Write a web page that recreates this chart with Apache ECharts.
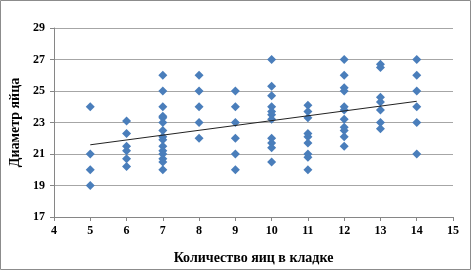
<!DOCTYPE html>
<html><head><meta charset="utf-8">
<script src="https://cdn.jsdelivr.net/npm/echarts@6/dist/echarts.min.js"></script>
<style>html,body{margin:0;padding:0;background:#fff}#c{width:471px;height:270px}</style>
</head><body><div id="c"></div>
<script>
// Clutch size (x) and egg diameter values (y) per column
const clutch5 = [24, 21, 20, 19];
const clutch6 = [23.1, 22.3, 21.5, 21.2, 20.7, 20.2];
const clutch7 = [26, 25, 24, 23.4, 23.3, 23.0, 22.5, 22.1, 21.9, 21.5, 21.2, 21.0, 20.7, 20.5, 20.0];
const clutch8 = [26, 25, 24, 23, 22];
const clutch9 = [25, 24, 23, 22, 21, 20];
const clutch10 = [27, 25.3, 24.7, 24, 23.7, 23.5, 23.2, 22.0, 21.7, 21.4, 20.5];
const clutch11 = [24.1, 23.7, 23.3, 22.3, 22.1, 21.7, 21.0, 20.8, 20.0];
const clutch12 = [27, 26, 25.2, 25.0, 24, 23.8, 23.2, 22.7, 22.5, 22.1, 21.5];
const clutch13 = [26.7, 26.5, 24.6, 24.3, 23.8, 23.0, 22.6];
const clutch14 = [27, 26, 25, 24, 23, 21];
const clutchSizes = [5, 6, 7, 8, 9, 10, 11, 12, 13, 14];
const diameters = [clutch5, clutch6, clutch7, clutch8, clutch9, clutch10, clutch11, clutch12, clutch13, clutch14];
const xTicks = [4, 15, 1];
const yTicks = [17, 29, 2];

const points = [];
clutchSizes.forEach((cs, i) => diameters[i].forEach(d => points.push([cs, d])));

// linear trend line (least squares)
let n = points.length, sx = 0, sy = 0, sxy = 0, sxx = 0;
points.forEach(([x, y]) => { sx += x; sy += y; sxy += x * y; sxx += x * x; });
const b = (n * sxy - sx * sy) / (n * sxx - sx * sx);
const a = (sy - b * sx) / n;
const xMinD = Math.min(...clutchSizes), xMaxD = Math.max(...clutchSizes);
const trend = [[xMinD, a + b * xMinD], [xMaxD, a + b * xMaxD]];

const chart = echarts.init(document.getElementById('c'), null, {renderer: 'canvas'});
const font = '"Liberation Serif", "Times New Roman", serif';
chart.setOption({
  animation: false,
  backgroundColor: '#fff',
  graphic: [{type: 'rect', shape: {x: 0.5, y: 0.5, width: 470, height: 269},
    style: {fill: 'none', stroke: '#8c8c8c', lineWidth: 1}, silent: true}],
  grid: {left: 54, right: 18, top: 28, bottom: 52, containLabel: false},
  xAxis: {
    type: 'value', min: xTicks[0], max: xTicks[1], interval: xTicks[2],
    name: 'Количество яиц в кладке', nameLocation: 'middle', nameGap: 34,
    nameTextStyle: {fontFamily: font, fontWeight: 'bold', fontSize: 14, color: '#000'},
    axisLine: {show: true, lineStyle: {color: '#868686', width: 1}},
    axisTick: {show: true, inside: false, length: 4, lineStyle: {color: '#868686'}},
    axisLabel: {fontFamily: font, fontWeight: 'bold', fontSize: 12, color: '#000', margin: 8},
    splitLine: {show: false}
  },
  yAxis: {
    type: 'value', min: yTicks[0], max: yTicks[1], interval: yTicks[2],
    name: 'Диаметр яйца', nameLocation: 'middle', nameGap: 30, nameRotate: 90,
    nameTextStyle: {fontFamily: font, fontWeight: 'bold', fontSize: 14, color: '#000'},
    axisLine: {show: true, lineStyle: {color: '#868686', width: 1}},
    axisTick: {show: true, inside: false, length: 4, lineStyle: {color: '#868686'}},
    axisLabel: {fontFamily: font, fontWeight: 'bold', fontSize: 12, color: '#000', margin: 9},
    splitLine: {show: true, lineStyle: {color: '#a6a6a6', width: 1}}
  },
  series: [
    {type: 'scatter', data: points, symbol: 'diamond', symbolSize: 9,
      itemStyle: {color: '#4a7ebb', opacity: 1}, z: 3},
    {type: 'line', data: trend, symbol: 'none', lineStyle: {color: '#222', width: 1}, z: 4}
  ]
});
</script></body></html>
